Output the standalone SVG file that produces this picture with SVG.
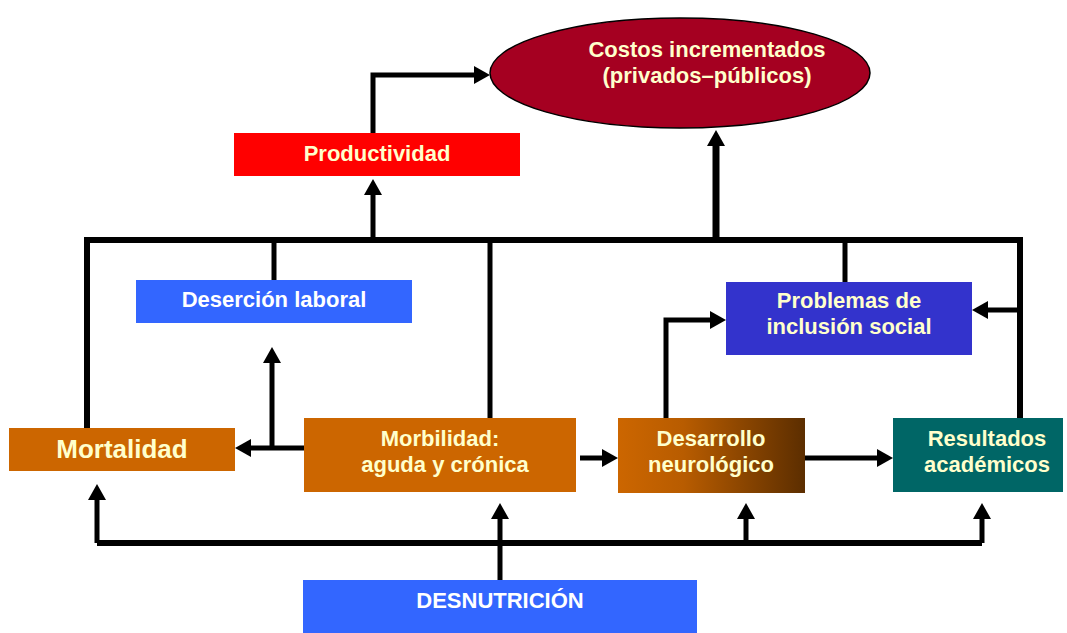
<svg xmlns="http://www.w3.org/2000/svg" width="1067" height="633" viewBox="0 0 1067 633">
<defs>
<style>
.t{font-family:"Liberation Sans",Arial,sans-serif;font-weight:bold;font-size:22px;fill:#FFFFCC;text-anchor:middle}
.w{fill:#FFFFFF}
.c{fill:none;stroke:#000;stroke-width:5}
.b{stroke-width:6}
</style>
<marker id="ah" markerUnits="userSpaceOnUse" markerWidth="16" markerHeight="18" refX="4" refY="9" orient="auto">
<path d="M0,0 L16,9 L0,18 z" fill="#000"/>
</marker>
<linearGradient id="gd" x1="0" y1="0" x2="1" y2="0">
<stop offset="0" stop-color="#CC6600"/>
<stop offset="0.35" stop-color="#B85C00"/>
<stop offset="1" stop-color="#5C2E00"/>
</linearGradient>
</defs>
<g id="connectors">
<path class="c" d="M373,133 V75 H478" marker-end="url(#ah)"/>
<path class="c" d="M373,240 V191" marker-end="url(#ah)"/>
<path class="c" d="M716,240 V142" style="stroke-width:7" marker-end="url(#ah)"/>
<path class="c b" d="M87,428 V240 H1020 V418"/>
<path class="c" d="M274,280 V240"/>
<path class="c" d="M490,418 V240"/>
<path class="c" d="M845,282 V240"/>
<path class="c" d="M1020,310 H984" marker-end="url(#ah)"/>
<path class="c" d="M666,418 V320 H714" marker-end="url(#ah)"/>
<path class="c" d="M304,448 H247" marker-end="url(#ah)"/>
<path class="c" d="M272,448 V359" marker-end="url(#ah)"/>
<path class="c" d="M580,458 H606" marker-end="url(#ah)"/>
<path class="c" d="M805,458 H881" marker-end="url(#ah)"/>
<path class="c b" d="M97,543 H982"/>
<path class="c" d="M97,543 V496" marker-end="url(#ah)"/>
<path class="c" d="M500,580 V515" marker-end="url(#ah)"/>
<path class="c" d="M746,543 V515" marker-end="url(#ah)"/>
<path class="c" d="M982,543 V515" marker-end="url(#ah)"/>
</g>
<g id="costos">
<ellipse cx="680" cy="73" rx="190" ry="55" fill="#A50021" stroke="#000" stroke-width="1.5"/>
<text class="t" x="707" y="57">Costos incrementados</text>
<text class="t" x="707" y="83">(privados–públicos)</text>
</g>
<g id="productividad">
<rect x="234" y="133" width="286" height="43" fill="#FF0000"/>
<text class="t" x="377" y="161">Productividad</text>
</g>
<g id="desercion">
<rect x="136" y="280" width="276" height="43" fill="#3366FF"/>
<text class="t w" x="274" y="307">Deserción laboral</text>
</g>
<g id="problemas">
<rect x="726" y="282" width="246" height="73" fill="#3333CC"/>
<text class="t" x="849" y="308">Problemas de</text>
<text class="t" x="849" y="334">inclusión social</text>
</g>
<g id="mortalidad">
<rect x="9" y="428" width="226" height="43" fill="#CC6600"/>
<text class="t" x="122" y="458" style="font-size:26px">Mortalidad</text>
</g>
<g id="morbilidad">
<rect x="304" y="418" width="272" height="74" fill="#CC6600"/>
<text class="t" x="440" y="446">Morbilidad:</text>
<text class="t" x="445" y="472">aguda y crónica</text>
</g>
<g id="desarrollo">
<rect x="618" y="418" width="187" height="75" fill="url(#gd)"/>
<text class="t" x="711" y="446">Desarrollo</text>
<text class="t" x="711" y="472">neurológico</text>
</g>
<g id="resultados">
<rect x="893" y="418" width="170" height="74" fill="#006666"/>
<text class="t" x="987" y="446">Resultados</text>
<text class="t" x="987" y="472">académicos</text>
</g>
<g id="desnutricion">
<rect x="303" y="580" width="394" height="53" fill="#3366FF"/>
<text class="t w" x="500" y="608">DESNUTRICIÓN</text>
</g>
</svg>
